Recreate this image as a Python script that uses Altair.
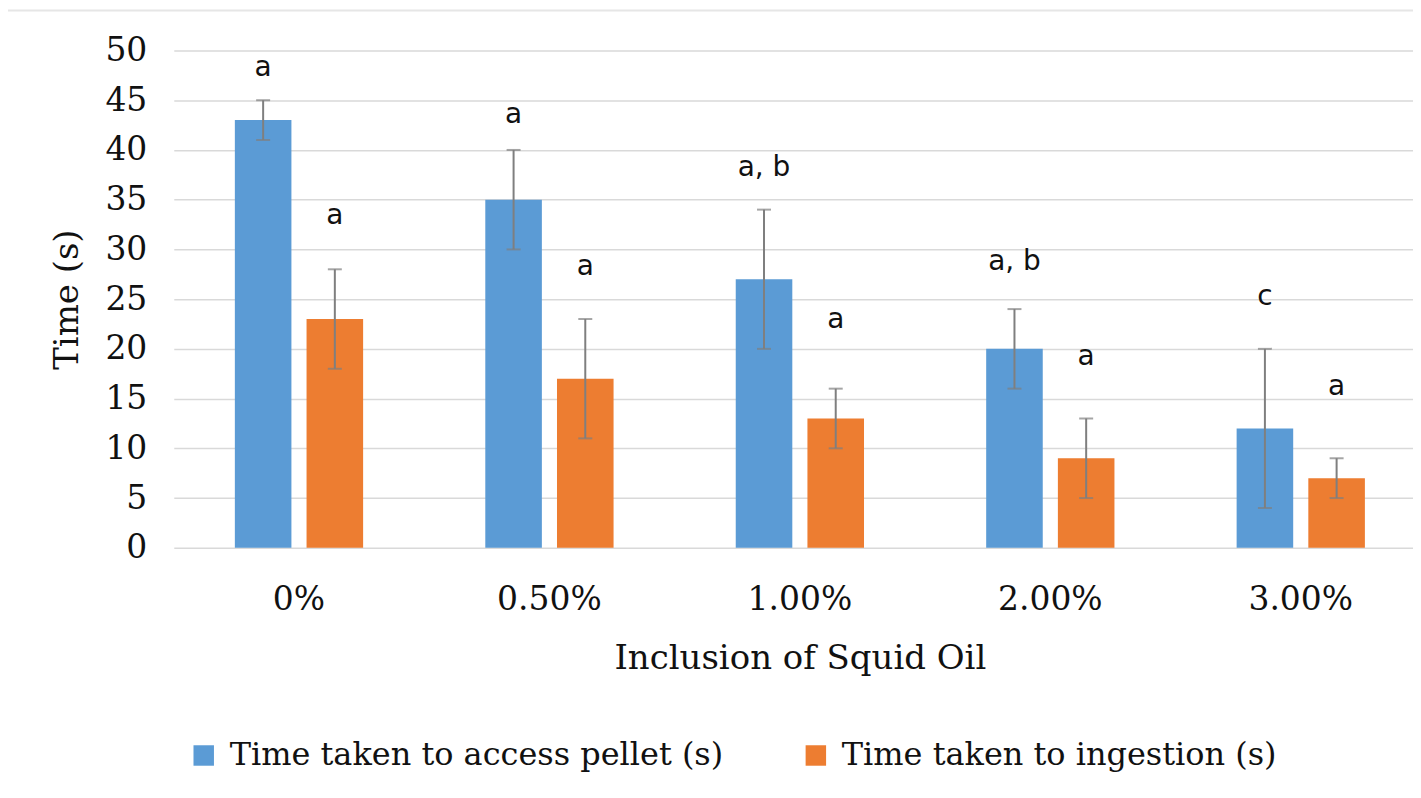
import altair as alt
import pandas as pd

categories = ["0%", "0.50%", "1.00%", "2.00%", "3.00%"]
series = ["Time taken to access pellet (s)", "Time taken to ingestion (s)"]
access = [43, 35, 27, 20, 12]
access_lo = [41, 30, 20, 16, 4]
access_hi = [45, 40, 34, 24, 20]
access_letters = ["a", "a", "a, b", "a, b", "c"]
access_label_y = [48.2, 43.5, 38.2, 28.7, 25.2]
ingest = [23, 17, 13, 9, 7]
ingest_lo = [18, 11, 10, 5, 5]
ingest_hi = [28, 23, 16, 13, 9]
ingest_letters = ["a", "a", "a", "a", "a"]
ingest_label_y = [33.4, 28.2, 22.9, 19.2, 16.2]
colors = ["#5b9bd5", "#ed7d31"]

rows = []
for i, c in enumerate(categories):
    rows.append(dict(cat=c, s=series[0], v=access[i], lo=access_lo[i], hi=access_hi[i],
                     lab=access_letters[i], ly=access_label_y[i]))
    rows.append(dict(cat=c, s=series[1], v=ingest[i], lo=ingest_lo[i], hi=ingest_hi[i],
                     lab=ingest_letters[i], ly=ingest_label_y[i]))
df = pd.DataFrame(rows)

SERIF = "DejaVu Serif"
x = alt.X("cat:N", sort=categories,
          scale=alt.Scale(paddingInner=0, paddingOuter=0, range=[-1, 1253]),
          axis=alt.Axis(title="Inclusion of Squid Oil", labelAngle=0, ticks=False, domain=False,
                        labelFont=SERIF, labelFontSize=33, labelColor="#111",
                        labelPadding=36, titleFont=SERIF, titleFontSize=34,
                        titleFontWeight="normal", titleColor="#111", titlePadding=25))
xo = alt.XOffset("s:N", sort=series, scale=alt.Scale(paddingInner=0.211, paddingOuter=0.852))
yscale = alt.Scale(domain=[0, 50], nice=False)

bars = alt.Chart(df).mark_bar().encode(
    x=x, xOffset=xo,
    y=alt.Y("v:Q", scale=yscale,
            axis=alt.Axis(title="Time (s)", values=list(range(0, 51, 5)), ticks=False,
                          domain=False, grid=True, gridColor="#d9d9d9", gridWidth=1.5,
                          labelFont=SERIF, labelFontSize=33, labelColor="#111",
                          labelPadding=28, titleFont=SERIF, titleFontSize=34,
                          titleFontWeight="normal", titleColor="#111", titlePadding=20)),
    color=alt.Color("s:N", sort=series, scale=alt.Scale(domain=series, range=colors),
                    legend=alt.Legend(title=None, orient="none", direction="horizontal",
                                      legendX=13, legendY=690, symbolType="square",
                                      symbolSize=420, symbolStrokeWidth=0,
                                      labelFont=SERIF, labelFontSize=32, labelColor="#111",
                                      columnPadding=76, labelOffset=10, labelLimit=0)),
)

rules = alt.Chart(df).mark_rule(color="#7f7f7f", strokeWidth=2).encode(
    x=x, xOffset=xo, y=alt.Y("lo:Q", scale=yscale), y2="hi:Q")
caps_hi = alt.Chart(df).mark_tick(color="#7f7f7f", thickness=2, size=14).encode(
    x=x, xOffset=xo, y=alt.Y("hi:Q", scale=yscale))
caps_lo = alt.Chart(df).mark_tick(color="#7f7f7f", thickness=2, size=14).encode(
    x=x, xOffset=xo, y=alt.Y("lo:Q", scale=yscale))
texts = alt.Chart(df).mark_text(font="DejaVu Sans", fontSize=28, color="#111",
                                baseline="middle").encode(
    x=x, xOffset=xo, y=alt.Y("ly:Q", scale=yscale), text="lab:N")

frame = alt.Chart(pd.DataFrame({"k": [0]})).mark_rule(color="#e6e6e6", strokeWidth=2).encode(
    x=alt.value(-168), x2=alt.value(1240), y=alt.value(-40))

chart = alt.layer(frame, bars, rules, caps_hi, caps_lo, texts).properties(
    width=1240, height=498,
    background="white",
    autosize=alt.AutoSizeParams(type="none"),
    padding={"left": 167, "top": 42, "right": 0, "bottom": 240},
).configure_view(strokeWidth=0, stroke="transparent")

chart.save("out.html", embed_options={"renderer": "svg", "actions": False})
